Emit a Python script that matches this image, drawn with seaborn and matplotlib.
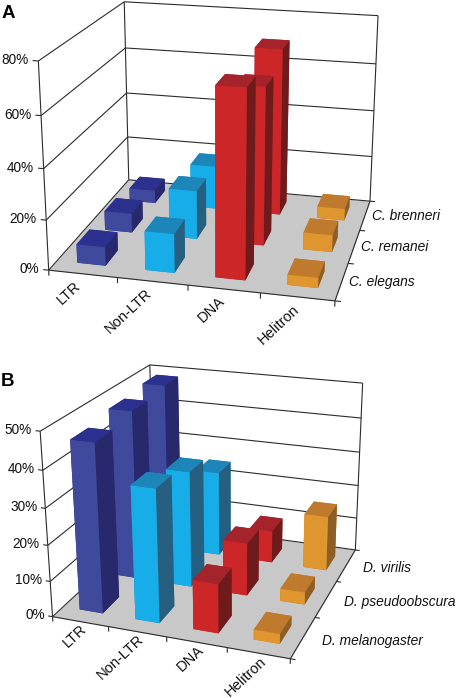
import numpy as np
import matplotlib
matplotlib.use("Agg")
import matplotlib.pyplot as plt
import seaborn as sns
from mpl_toolkits.mplot3d import proj3d
from mpl_toolkits.mplot3d.art3d import Line3DCollection

sns.set_theme(style="white")
plt.rcParams['font.family'] = ['Liberation Sans', 'DejaVu Sans']

categories = ["LTR", "Non-LTR", "DNA", "Helitron"]

species_a = ["C. elegans", "C. remanei", "C. brenneri"]
elegans = [7.5, 15.5, 73, 4]
remanei = [8, 20, 64, 7]
brenneri = [5.5, 18.5, 70, 5]
ticks_a = [0, 20, 40, 60, 80]

species_b = ["D. melanogaster", "D. pseudoobscura", "D. virilis"]
melanogaster = [46.5, 36.5, 13.5, 2.7]
pseudoobscura = [48, 33, 15, 3.5]
virilis = [49, 25, 9.5, 16]
ticks_b = [0, 10, 20, 30, 40, 50]

# face colours of a bar: bottom, top, front, back, left, right
blue = ["#2a2e78", "#2c318f", "#3f4a9c", "#2a2e78", "#2a2e78", "#28296c"]
cyan = ["#1d86b8", "#1d86b8", "#17ade8", "#1d86b8", "#1d86b8", "#265f80"]
red = ["#a5232a", "#a5232a", "#cc2629", "#a5232a", "#a5232a", "#701b1b"]
orange = ["#c07a2e", "#c07a2e", "#e0962e", "#c07a2e", "#c07a2e", "#8d5f25"]
faces = [blue, cyan, red, orange]

W, H = 458, 698
LINE = "#2b2b2b"
INK = "#111111"


def camera(ax, world, pixels):
    # fit the perspective of the drawing from where the frame corners sit
    uv = ax.transData.inverted().transform(np.c_[pixels[:, 0], H - pixels[:, 1]])
    rows = []
    for (x, y, z), (u, v) in zip(world, uv):
        rows.append([x, y, z, 1, 0, 0, 0, 0, -u * x, -u * y, -u * z, -u])
        rows.append([0, 0, 0, 0, x, y, z, 1, -v * x, -v * y, -v * z, -v])
    p = np.linalg.svd(np.array(rows))[2][-1].reshape(3, 4)
    w = p[2] @ np.array([2, 1.5, world[:, 2].max() / 2, 1])
    p = p / w
    return np.vstack([p[0], p[1], p[2] - [0, 0, 0, 0.5], p[2]])


def panel(rect, rows, names, ticks, corners, name_x, cat_off):
    ax = fig.add_axes(rect, projection="3d")
    ax.computed_zorder = False
    ax.set_axis_off()
    ax.patch.set_visible(False)
    top = ticks[-1]
    world = np.array([[0, 0, 0], [4, 0, 0], [4, 3, 0], [0, 3, 0], [0, 0, top], [0, 3, top], [4, 3, top]], float)
    ax.get_proj = lambda: camera(ax, world, np.array(corners, float))
    ax.apply_aspect()
    m = ax.get_proj()

    # 3D text ignores rotation, so all labels go on as 2D text at projected spots
    def label(x, y, z, s, **kw):
        u, v, _ = proj3d.proj_transform(x, y, z, m)
        ax.text2D(u, v, s, transform=ax.transData, va="center", color=INK, **kw)

    ax.plot_surface(np.array([[0, 4], [0, 4]]), np.array([[0, 0], [3, 3]]), np.zeros((2, 2)),
                    color="#c8c8c8", shade=False, linewidth=0, zorder=1)

    segs = []
    for t in ticks:
        segs.append([(0, 0, t), (0, 3, t)])
        segs.append([(0, 3, t), (4, 3, t)])
        segs.append([(-0.08, 0, t), (0, 0, t)])
        label(-0.14, 0, t, f"{t}%", ha="right", fontsize=9.8)
    segs.append([(0, 0, 0), (0, 0, top)])
    segs.append([(0, 3, 0), (0, 3, top)])
    segs.append([(4, 3, 0), (4, 3, top)])
    segs.append([(0, 0, 0), (4, 0, 0)])
    segs.append([(4, 0, 0), (4, 3, 0)])
    for i in range(5):
        segs.append([(i, 0, 0), (i, 0, -top * 0.028)])
    for j in range(4):
        segs.append([(4, j, 0), (4.08, j, 0)])
    ax.add_collection3d(Line3DCollection(segs, colors=LINE, linewidths=0.8, zorder=2))

    # back rows first so the front ones are painted over them
    for j, row in enumerate(rows):
        for i, v in enumerate(row):
            ax.bar3d(i + 0.3, j + 0.27, 0, 0.42, 0.45, v, color=faces[i], shade=False,
                     edgecolor="none", zorder=10 * (3 - j) + i)

    for i, c in enumerate(categories):
        label(i + 0.5 + cat_off[0], cat_off[1], 0, c, rotation=43, rotation_mode="anchor",
              ha="right", fontsize=10.5)
    for j, n in enumerate(names):
        label(name_x, j + 0.5, 0, n, style="italic", ha="left", fontsize=9.9)


fig = plt.figure(figsize=(W / 100, H / 100), dpi=100)
side = W / H
panel([0, 1 - side, 1, side], [elegans, remanei, brenneri], species_a, ticks_a,
      [(48.7, 270), (335, 301), (370, 201), (128.7, 180), (38.3, 61), (124.3, 1.7), (378, 15.7)],
      4.1, (0.05, -0.25))
panel([0, 0, 1, side], [melanogaster, pseudoobscura, virilis], species_b, ticks_b,
      [(51.7, 615.7), (290.7, 659.3), (355, 549.3), (155, 523), (40.7, 431.7), (149.3, 364.3), (362.7, 383.3)],
      4.3, (0.14, -0.1))
fig.text(2 / W, 1 - 13 / H, "A", fontsize=13.5, fontweight="bold", va="center", color="black")
fig.text(1 / W, 1 - 382 / H, "B", fontsize=13.5, fontweight="bold", va="center", color="black")
fig.savefig("out.png", dpi=100)
